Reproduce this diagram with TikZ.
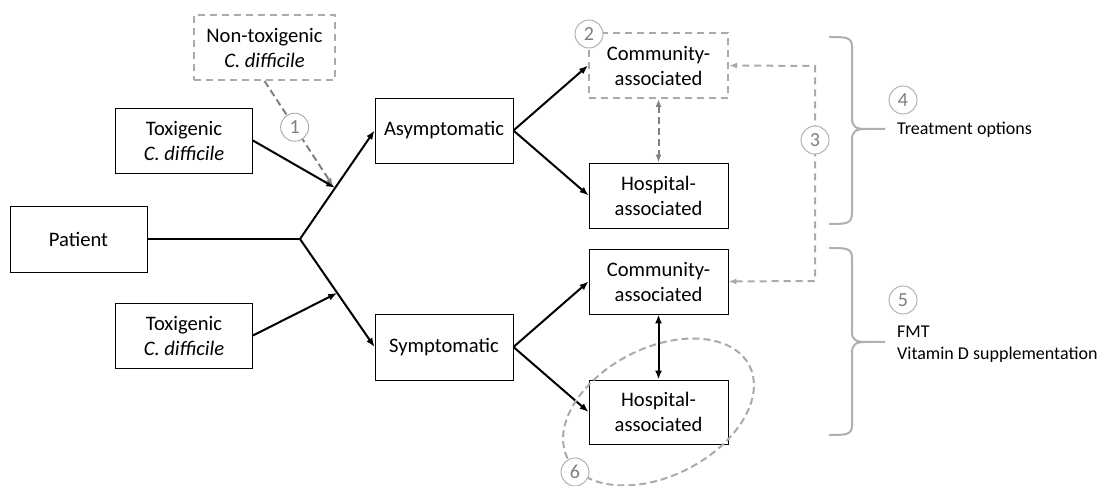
\documentclass[tikz,border=0pt]{standalone}
\usepackage{fontspec}
\setmainfont{Carlito}
\usetikzlibrary{arrows.meta,calc}
\definecolor{lgray}{RGB}{170,170,170}
\definecolor{dgray}{RGB}{128,128,128}
\definecolor{bgray}{RGB}{175,175,175}
\begin{document}
\begin{tikzpicture}[x=1pt,y=-1pt,
  box/.style={draw=black,line width=0.9pt,fill=white,align=center,
    minimum width=139pt,minimum height=65pt,inner sep=0pt,
    font=\fontsize{20.6}{25}\selectfont},
  dbox/.style={box,draw=lgray,line width=2pt,dash pattern=on 7pt off 5pt},
  conn/.style={line width=2pt,draw=black},
  arr/.style={conn,-{Latex[length=9pt,width=7pt]}},
  darr/.style={line width=2pt,draw=dgray,dash pattern=on 7pt off 4pt,
    -{Latex[length=8pt,width=6pt]}},
  numc/.style={circle,draw=lgray,line width=0.9pt,fill=white,text=dgray,
    minimum size=28pt,inner sep=0pt,font=\fontsize{20}{20}\selectfont},
  brace/.style={draw=bgray,line width=2pt},
  side/.style={anchor=west,align=left,inner sep=0pt,
    font=\fontsize{18}{21.5}\selectfont}
]
\useasboundingbox (0,0) rectangle (1109,486);

% boxes
\node[dbox,minimum width=141pt] (nontox) at (264.5,47.5) {Non-toxigenic\\\textit{C. difficile}};
\node[box,minimum width=137pt] (tox1) at (184,140.5) {Toxigenic\\\textit{C. difficile}};
\node[box,minimum width=137pt,minimum height=66pt] (patient) at (78.5,239) {Patient};
\node[box,minimum width=137pt] (tox2) at (184,335.5) {Toxigenic\\\textit{C. difficile}};
\node[box,minimum width=138pt] (asym) at (444,130.5) {Asymptomatic};
\node[box,minimum width=138pt,minimum height=66pt] (sym) at (444,347) {Symptomatic};
\node[dbox] (ca1) at (658.5,65.5) {Community-\\associated};
\node[box] (ha1) at (658.5,195.5) {Hospital-\\associated};
\node[box] (ca2) at (658.5,281.5) {Community-\\associated};
\node[box,minimum height=64pt] (ha2) at (658.5,412) {Hospital-\\associated};

% main branching
\coordinate (j) at (300,239);
\draw[conn] (patient.east) -- (j);
\draw[arr] (j) -- (asym.west);
\draw[arr] (j) -- (sym.west);
\coordinate (t1) at ($(j)!0.472!(asym.west)$);
\coordinate (t2) at ($(j)!0.5!(sym.west)$);
\draw[arr] (tox1.east) -- (t1);
\draw[arr] (tox2.east) -- (t2);

\draw[arr] (asym.east) -- (ca1.west);
\draw[arr] (asym.east) -- (ha1.west);
\draw[arr] (sym.east) -- (ca2.west);
\draw[arr] (sym.east) -- (ha2.west);
\draw[conn,{Latex[length=9pt,width=7pt]}-{Latex[length=9pt,width=7pt]}] (ca2.south) -- (ha2.north);

% dashed gray arrows
\coordinate (d1) at (333,186);
\draw[darr] (nontox.south) -- (d1);
\node[numc] (n1) at ($(nontox.south)!0.44!(d1)$) {1};
\draw[darr,{Latex[length=8pt,width=6pt]}-{Latex[length=8pt,width=6pt]}] (ca1.south) -- (ha1.north);

\coordinate (r1) at (815,66);
\coordinate (r2) at (815,281);
\draw[line width=2pt,draw=lgray,dash pattern=on 7pt off 5pt,
  {Latex[length=8pt,width=6pt]}-{Latex[length=8pt,width=6pt]}]
  (ca2.east) -- (r2) -- (r1) -- (ca1.east);
\node[numc] (n3) at (815,140) {3};

\node[numc] (n2) at (589,34) {2};

% ellipse
\draw[draw=lgray,line width=2pt,dash pattern=on 7pt off 4pt] (ha2.center) [rotate around={27:(ha2.center)}] ellipse (102 and 64);
\node[numc] (n6) at (575,472) {6};

% braces
\draw[brace] (829,37) .. controls (846,37) and (852,37) .. (852,47) -- (852,118)
  .. controls (852,127) and (856,129) .. (866,129) -- (885,129);
\draw[brace] (866,129) .. controls (856,129) and (852,131) .. (852,140) -- (852,213)
  .. controls (852,224) and (846,224) .. (829,224);
\draw[brace] (829,248) .. controls (846,248) and (852,248) .. (852,258) -- (852,332)
  .. controls (852,340) and (856,342) .. (866,342) -- (885,342);
\draw[brace] (866,342) .. controls (856,342) and (852,344) .. (852,353) -- (852,425)
  .. controls (852,435) and (846,435) .. (829,435);

\node[numc] (n4) at (903,100) {4};
\node[side] (t4) at (897,130) {Treatment options};
\node[numc] (n5) at (903,300) {5};
\node[side] (t5) at (897,344) {FMT\\Vitamin D supplementation};
\end{tikzpicture}
\end{document}
